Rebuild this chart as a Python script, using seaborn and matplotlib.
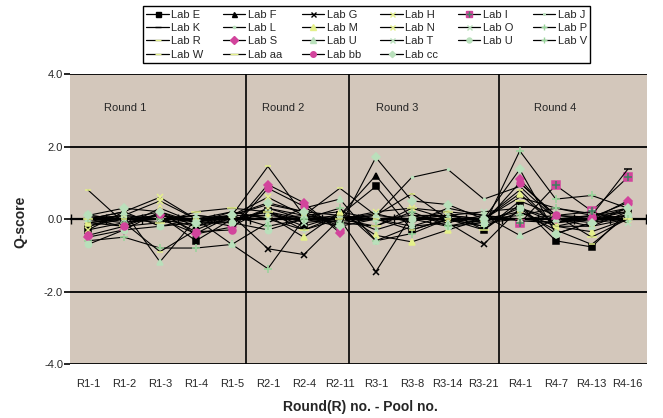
import numpy as np
import pandas as pd
import matplotlib
matplotlib.use("Agg")
import matplotlib.pyplot as plt
from matplotlib.lines import Line2D
import seaborn as sns

sns.set_style("white")
plt.rcParams["font.family"] = ["Liberation Sans", "DejaVu Sans"]

# Pools (x categories)
pools = ["R1-1", "R1-2", "R1-3", "R1-4", "R1-5", "R2-1", "R2-4", "R2-11",
         "R3-1", "R3-8", "R3-14", "R3-21", "R4-1", "R4-7", "R4-13", "R4-16"]

rounds = ["Round 1", "Round 2", "Round 3", "Round 4"]

nan = np.nan
# Q-scores per laboratory, one value per pool (nan = pool not reported)
lab_e = [-0.3, -0.1, 0.1, -0.6, 0.0, 0.2, -0.2, 0.1, 0.9, -0.3, 0.0, -0.3, 0.4, -0.6, -0.77, 0.2]
lab_f = [-0.1, 0.0, 0.2, -0.2, 0.0, 0.1, 0.0, 0.1, 1.2, 0.0, 0.1, -0.1, 1.0, 0.1, 0.0, 0.3]
lab_g = [-0.2, 0.1, 0.0, -0.4, 0.1, -0.82, -0.98, 0.0, -1.45, 0.1, -0.1, -0.7, 0.3, -0.1, 0.0, 0.2]
lab_h = [-0.3, 0.2, 0.6, 0.0, 0.1, 0.6, 0.1, 0.0, 0.2, 0.3, 0.0, -0.1, 0.0, -0.1, 0.1, 0.2]
lab_i = [nan, nan, nan, nan, nan, nan, nan, nan, nan, nan, nan, nan, -0.12, 0.93, 0.22, 1.15]
lab_j = [0.0, 0.1, 0.0, 0.1, 0.0, 0.2, 0.0, 0.0, 0.1, 1.15, 1.37, 0.55, 0.9, 0.0, 0.1, 0.3]
lab_k = [-0.2, 0.0, 0.1, -0.1, -0.1, 0.3, 0.1, 0.2, 0.0, -0.2, 0.1, 0.0, 0.6, 0.3, 0.1, 1.37]
lab_l = [0.1, 0.0, -0.1, 0.0, 0.2, 0.0, -0.3, 0.1, -0.3, 0.0, 0.1, 0.0, 0.2, -0.2, 0.0, 0.1]
lab_m = [-0.1, -0.2, 0.3, -0.1, 0.1, 0.1, -0.5, 0.2, -0.45, -0.63, -0.3, 0.0, 0.7, -0.2, -0.35, 0.0]
lab_n = [0.0, 0.1, 0.5, 0.0, -0.2, 0.3, 0.0, 0.0, 0.1, 0.0, 0.2, 0.1, -0.05, -0.1, 0.0, 0.1]
lab_o = [0.0, 0.2, -0.2, -0.1, 0.2, 0.0, 0.1, -0.1, 0.0, 0.1, 0.1, 0.2, 0.3, 0.0, -0.1, 0.0]
lab_p = [-0.6, -0.5, -0.8, -0.8, -0.7, -1.37, 0.0, 0.3, -0.6, -0.4, 0.0, -0.2, 1.88, 0.55, 0.65, 0.3]
lab_r = [0.8, -0.1, -0.9, -0.3, 0.1, 1.45, 0.1, 0.85, 0.1, 0.7, 0.0, -0.2, 0.2, -0.3, -0.7, 0.1]
lab_s = [-0.5, -0.3, 0.2, -0.41, -0.22, 0.95, 0.45, -0.38, nan, nan, nan, nan, 1.1, 0.0, 0.0, 0.5]
lab_u = [0.0, 0.2, -1.18, 0.0, -0.7, -0.1, 0.3, 0.55, -0.6, -0.2, -0.1, 0.1, -0.45, 0.0, -0.2, 0.2]
lab_t = [0.1, 0.0, 0.0, 0.1, 0.0, 0.2, -0.1, 0.0, 0.15, -0.1, 0.3, 0.1, 0.0, 0.1, 0.2, -0.1]
lab_u2 = [-0.7, -0.3, -0.2, 0.0, -0.1, -0.3, 0.0, -0.2, 0.0, 0.0, -0.2, -0.1, 0.3, -0.4, -0.1, 0.1]
lab_v = [0.0, -0.1, 0.0, -0.2, 0.1, -0.2, 0.0, -0.1, -0.2, 0.2, -0.2, 0.0, 0.1, 0.3, 0.15, 0.0]
lab_w = [-0.1, 0.0, 0.1, 0.0, 0.1, 0.4, 0.2, 0.1, 0.0, -0.3, 0.0, 0.0, 0.8, -0.2, -0.2, 0.0]
lab_aa = [0.0, -0.2, -0.1, 0.2, 0.3, 0.2, -0.3, 0.0, -0.2, 0.3, 0.2, -0.3, 0.5, 0.1, -0.5, 0.0]
lab_bb = [-0.45, -0.2, 0.15, -0.35, -0.3, 0.85, 0.35, -0.3, nan, nan, nan, nan, 1.0, 0.1, 0.05, 0.45]
lab_cc = [0.1, 0.3, 0.2, -0.1, 0.1, 0.45, 0.2, -0.2, 1.7, 0.5, 0.4, 0.0, 1.37, -0.4, -0.1, 0.3]

YEL = "#e4f08a"
LGR = "#b9e0bb"
MAG = "#d2449c"
GRN = "#98d49a"
BLK = "black"

# name, values, marker, face colour, edge colour, marker size
series = [
    ("Lab E", lab_e, "s", BLK, BLK, 4.5),
    ("Lab F", lab_f, "^", BLK, BLK, 4.5),
    ("Lab G", lab_g, "x", BLK, BLK, 4.5),
    ("Lab H", lab_h, "x", YEL, YEL, 4.5),
    ("Lab I", lab_i, "s", MAG, MAG, 5.5),
    ("Lab J", lab_j, ".", LGR, LGR, 3),
    ("Lab K", lab_k, "_", BLK, BLK, 6),
    ("Lab L", lab_l, ".", LGR, LGR, 4),
    ("Lab M", lab_m, "^", YEL, YEL, 5),
    ("Lab N", lab_n, "x", YEL, YEL, 4.5),
    ("Lab O", lab_o, "x", LGR, LGR, 4.5),
    ("Lab P", lab_p, "+", GRN, GRN, 6),
    ("Lab R", lab_r, "_", YEL, YEL, 5),
    ("Lab S", lab_s, "D", MAG, MAG, 4.5),
    ("Lab U", lab_u, "^", LGR, LGR, 5),
    ("Lab T", lab_t, "x", LGR, LGR, 4.5),
    ("Lab U ", lab_u2, "o", LGR, LGR, 4.5),
    ("Lab V", lab_v, "+", GRN, GRN, 6),
    ("Lab W", lab_w, "_", YEL, YEL, 5),
    ("Lab aa", lab_aa, "_", YEL, YEL, 7),
    ("Lab bb", lab_bb, "o", MAG, MAG, 5),
    ("Lab cc", lab_cc, "D", LGR, LGR, 4),
]

fig = plt.figure(figsize=(6.63, 4.18), dpi=100)
ax = fig.add_axes([0.1056, 0.129, 0.871, 0.694])
ax.set_facecolor("#d3c7bb")

x = np.arange(len(pools))
handles = {}
for name, vals, mk, fc, ec, ms in series:
    df = pd.DataFrame({"pool": x, "q": vals})
    # contiguous runs of reported pools are drawn as separate segments
    df["seg"] = df["q"].isna().cumsum()
    df = df.dropna()
    for _, part in df.groupby("seg"):
        sns.lineplot(data=part, x="pool", y="q", ax=ax, color="black", lw=0.8,
                     marker=mk, markersize=ms, markerfacecolor=fc,
                     markeredgecolor=ec, markeredgewidth=1.1, zorder=3)
    lg = 0.8
    h = Line2D([], [], color="black", lw=0.9, marker=mk, markersize=ms * lg,
               markerfacecolor=fc, markeredgecolor=ec, markeredgewidth=1.0)
    if name == "Lab I":
        ax.plot(df["pool"], df["q"], ls="none", marker="+", ms=5.5,
                mec="#3f7f5f", mew=1.1, zorder=4)
        h = (h, Line2D([], [], ls="none", marker="+", ms=5.5 * lg,
                       mec="#3f7f5f", mew=1.0))
    handles[name] = h

ax.set_xlim(-0.5, 15.55)
ax.set_ylim(-4, 4)

# frame lines: horizontal guides, zero axis with category ticks, round dividers
for yv in (4, 2, -2, -4):
    ax.axhline(yv, color="black", lw=1.3, zorder=2)
ax.axhline(0, color="black", lw=1.6, zorder=2)
bounds = np.arange(-0.5, 15.6, 1.0)
ax.vlines(bounds[1:], -0.14, 0.14, color="black", lw=1.0, zorder=2)
ax.vlines([-0.47], -0.14, 0.14, color="black", lw=1.0, zorder=2, clip_on=False)
ax.vlines([4.39, 7.25, 11.42], -4, 4, color="black", lw=1.2, zorder=2)

for sp in ax.spines.values():
    sp.set_visible(False)

ax.set_xticks(x)
ax.set_xticklabels(pools, fontsize=8)
ax.tick_params(axis="x", length=0, pad=11)
ax.set_yticks([-4, -2, 0, 2, 4])
ax.set_yticklabels(["-4.0", "-2.0", "0.0", "2.0", "4.0"], fontsize=8)
ax.tick_params(axis="y", length=4, width=1.2, color="black", pad=1, left=True)
ax.set_xlabel("")
ax.set_ylabel("")

for label, xp in zip(rounds, [1.03, 5.42, 8.6, 12.97]):
    ax.text(xp, 3.07, label, fontsize=8, ha="center", va="center")

fig.text(0.543, 0.026, "Round(R) no. - Pool no.", fontsize=10, fontweight="bold",
         ha="center", va="center")
fig.text(0.030, 0.469, "Q-score", fontsize=10, fontweight="bold", rotation=90,
         ha="center", va="center")

# legend laid out row by row in six columns
order = [["Lab E", "Lab K", "Lab R", "Lab W"],
         ["Lab F", "Lab L", "Lab S", "Lab aa"],
         ["Lab G", "Lab M", "Lab U", "Lab bb"],
         ["Lab H", "Lab N", "Lab T", "Lab cc"],
         ["Lab I", "Lab O", "Lab U "],
         ["Lab J", "Lab P", "Lab V"]]
names = [n for col in order for n in col]
leg = fig.legend([handles[n] for n in names], [n.strip() for n in names],
                 ncol=6, loc="upper center", bbox_to_anchor=(0.553, 0.985),
                 fontsize=8, frameon=True, fancybox=False, framealpha=1,
                 edgecolor="black", handlelength=2.0, handletextpad=0.25,
                 columnspacing=1.75, labelspacing=0.3, borderpad=0.3,
                 borderaxespad=0)
leg.get_frame().set_linewidth(1.0)

fig.savefig("out.png", dpi=100)
